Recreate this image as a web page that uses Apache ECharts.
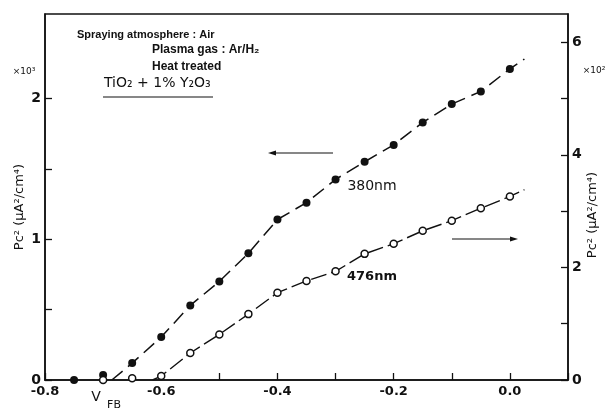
<!DOCTYPE html>
<html><head><meta charset="utf-8">
<script src="https://cdn.jsdelivr.net/npm/echarts@6/dist/echarts.min.js"></script>
<style>html,body{margin:0;padding:0;background:#fff}#c{width:605px;height:410px}</style>
</head><body><div id="c"></div>
<script>
// ---- data ----
const xTickLabels = ['-0.8', '-0.6', '-0.4', '-0.2', '0.0'];
const leftTickLabels = ['0', '1', '2'];     // ×10^3
const leftTickMarks = [0, 0.5, 1, 1.5, 2];
const rightTickLabels = ['0', '2', '4', '6']; // ×10^2
const rightTickMarks = [0, 1, 2, 3, 4, 5, 6];

// 380 nm (filled circles, left axis, ×10^3 µA²/cm⁴)
const bias380 = [-0.75, -0.70, -0.65, -0.60, -0.55, -0.50, -0.45, -0.40, -0.35, -0.30, -0.25, -0.20, -0.15, -0.10, -0.05, 0.00];
const pc380   = [0.00, 0.035, 0.12, 0.305, 0.53, 0.70, 0.90, 1.14, 1.26, 1.425, 1.55, 1.67, 1.83, 1.96, 2.05, 2.21];
// 476 nm (open circles, right axis, ×10^2 µA²/cm⁴)
const bias476 = [-0.70, -0.65, -0.60, -0.55, -0.50, -0.45, -0.40, -0.35, -0.30, -0.25, -0.20, -0.15, -0.10, -0.05, 0.00];
const pc476   = [0.00, 0.03, 0.07, 0.48, 0.81, 1.17, 1.55, 1.76, 1.93, 2.24, 2.42, 2.65, 2.83, 3.05, 3.26];
// fitted (dashed) line end points
const fit380Start = [-0.685, 0];
const fit380End = [0.025, 2.28];
const fit380FirstIdx = 2;
const fit476Start = [-0.615, 0];
const fit476End = [0.025, 3.38];
const fit476FirstIdx = 2;

// ---- chart ----
const pts380 = bias380.map((x, i) => [x, pc380[i]]);
const pts476 = bias476.map((x, i) => [x, pc476[i]]);
const line380 = [fit380Start].concat(pts380.slice(fit380FirstIdx), [fit380End]);
const line476 = [fit476Start].concat(pts476.slice(fit476FirstIdx), [fit476End]);

const INK = '#111';
const FONT = '"DejaVu Sans", "Liberation Sans", sans-serif';
const ANN = '"Liberation Sans", "DejaVu Sans", sans-serif';

function fmtX(v) {
  const s = Math.abs(v) < 1e-9 ? '0.0' : v.toFixed(1);
  return xTickLabels.includes(s) ? s : '';
}
function fmtInt(list) {
  return function (v) {
    const r = Math.round(v);
    if (Math.abs(v - r) > 1e-6) return '';
    const s = String(r);
    return list.includes(s) ? s : '';
  };
}

const chart = echarts.init(document.getElementById('c'), null, {renderer: 'canvas'});
chart.setOption({
  animation: false,
  backgroundColor: '#fff',
  grid: {left: 45, right: 37, top: 14, bottom: 30, show: true, borderColor: INK, borderWidth: 1.5, backgroundColor: 'transparent'},
  xAxis: {
    type: 'value', min: -0.8, max: 0.1, interval: 0.1,
    splitLine: {show: false},
    axisLine: {show: true, onZero: false, lineStyle: {color: INK, width: 1.5}},
    axisTick: {inside: true, length: 7, lineStyle: {color: INK, width: 1.3}},
    axisLabel: {formatter: fmtX, color: INK, fontFamily: FONT, fontWeight: 'bold', fontSize: 13, margin: 5, showMinLabel: true, showMaxLabel: true}
  },
  yAxis: [{
    type: 'value', min: 0, max: 2.6, interval: 0.5, position: 'left',
    splitLine: {show: false},
    axisLine: {show: true, onZero: false, lineStyle: {color: INK, width: 1.5}},
    axisTick: {inside: true, length: 7, customValues: leftTickMarks, lineStyle: {color: INK, width: 1.3}},
    axisLabel: {formatter: fmtInt(leftTickLabels), customValues: leftTickLabels.map(Number), color: INK, fontFamily: FONT, fontWeight: 'bold', fontSize: 14, margin: 4}
  }, {
    type: 'value', min: 0, max: 6.5, interval: 1, position: 'right',
    splitLine: {show: false},
    axisLine: {show: true, onZero: false, lineStyle: {color: INK, width: 1.5}},
    axisTick: {inside: true, length: 7, customValues: rightTickMarks, lineStyle: {color: INK, width: 1.3}},
    axisLabel: {formatter: fmtInt(rightTickLabels), customValues: rightTickLabels.map(Number), color: INK, fontFamily: FONT, fontWeight: 'bold', fontSize: 14, margin: 4}
  }],
  series: [
    {type: 'line', name: '380nm fit', yAxisIndex: 0, data: line380, showSymbol: false, symbol: 'none', z: 2,
     lineStyle: {color: INK, width: 1.5, type: [14, 7]}},
    {type: 'line', name: '476nm fit', yAxisIndex: 1, data: line476, showSymbol: false, symbol: 'none', z: 2,
     lineStyle: {color: INK, width: 1.4, type: [16, 5]}},
    {type: 'scatter', name: '380nm', yAxisIndex: 0, data: pts380, symbol: 'circle', symbolSize: 8, z: 5,
     itemStyle: {color: INK, opacity: 1}},
    {type: 'scatter', name: '476nm', yAxisIndex: 1, data: pts476, symbol: 'circle', symbolSize: 7, z: 5,
     itemStyle: {color: '#fff', borderColor: INK, borderWidth: 1.5, opacity: 1}}
  ],
  graphic: [
    {type: 'text', x: 77, y: 35, style: {text: 'Spraying atmosphere : Air', font: 'bold 11px ' + ANN, fill: INK, textAlign: 'left', textVerticalAlign: 'middle'}},
    {type: 'text', x: 152, y: 50, style: {text: 'Plasma gas : Ar/H₂', font: 'bold 12px ' + ANN, fill: INK, textAlign: 'left', textVerticalAlign: 'middle'}},
    {type: 'text', x: 152, y: 67, style: {text: 'Heat treated', font: 'bold 12px ' + ANN, fill: INK, textAlign: 'left', textVerticalAlign: 'middle'}},
    {type: 'text', x: 104, y: 83, style: {text: 'TiO₂ + 1% Y₂O₃', font: '14px ' + FONT, fill: INK, textAlign: 'left', textVerticalAlign: 'middle'}},
    {type: 'line', shape: {x1: 103, y1: 97, x2: 213, y2: 97}, style: {stroke: INK, lineWidth: 1.2}},
    {type: 'text', x: 24, y: 72, style: {text: '×10³', font: '9px ' + FONT, fill: INK, textAlign: 'center', textVerticalAlign: 'middle'}},
    {type: 'text', x: 594, y: 71, style: {text: '×10²', font: '9px ' + FONT, fill: INK, textAlign: 'center', textVerticalAlign: 'middle'}},
    {type: 'text', x: 20, y: 207, rotation: Math.PI / 2, style: {text: 'Pc² (μA²/cm⁴)', font: '13px ' + FONT, fill: INK, textAlign: 'center', textVerticalAlign: 'middle'}},
    {type: 'text', x: 593, y: 215, rotation: Math.PI / 2, style: {text: 'Pc² (μA²/cm⁴)', font: '13px ' + FONT, fill: INK, textAlign: 'center', textVerticalAlign: 'middle'}},
    {type: 'text', x: 372, y: 186, style: {text: '380nm', font: '14px ' + FONT, fill: INK, textAlign: 'center', textVerticalAlign: 'middle'}},
    {type: 'text', x: 372, y: 277, style: {text: '476nm', font: 'bold 13px ' + FONT, fill: INK, textAlign: 'center', textVerticalAlign: 'middle'}},
    {type: 'text', x: 96, y: 397, style: {text: 'V', font: '14px ' + FONT, fill: INK, textAlign: 'center', textVerticalAlign: 'middle'}},
    {type: 'text', x: 114, y: 405, style: {text: 'FB', font: '11px ' + FONT, fill: INK, textAlign: 'center', textVerticalAlign: 'middle'}},
    {type: 'line', shape: {x1: 272, y1: 153, x2: 333, y2: 153}, style: {stroke: INK, lineWidth: 1.2}},
    {type: 'polygon', shape: {points: [[268, 153], [276, 150.5], [276, 155.5]]}, style: {fill: INK}},
    {type: 'line', shape: {x1: 452, y1: 239, x2: 513, y2: 239}, style: {stroke: INK, lineWidth: 1.2}},
    {type: 'polygon', shape: {points: [[518, 239], [510, 236.5], [510, 241.5]]}, style: {fill: INK}}
  ]
});
</script></body></html>
